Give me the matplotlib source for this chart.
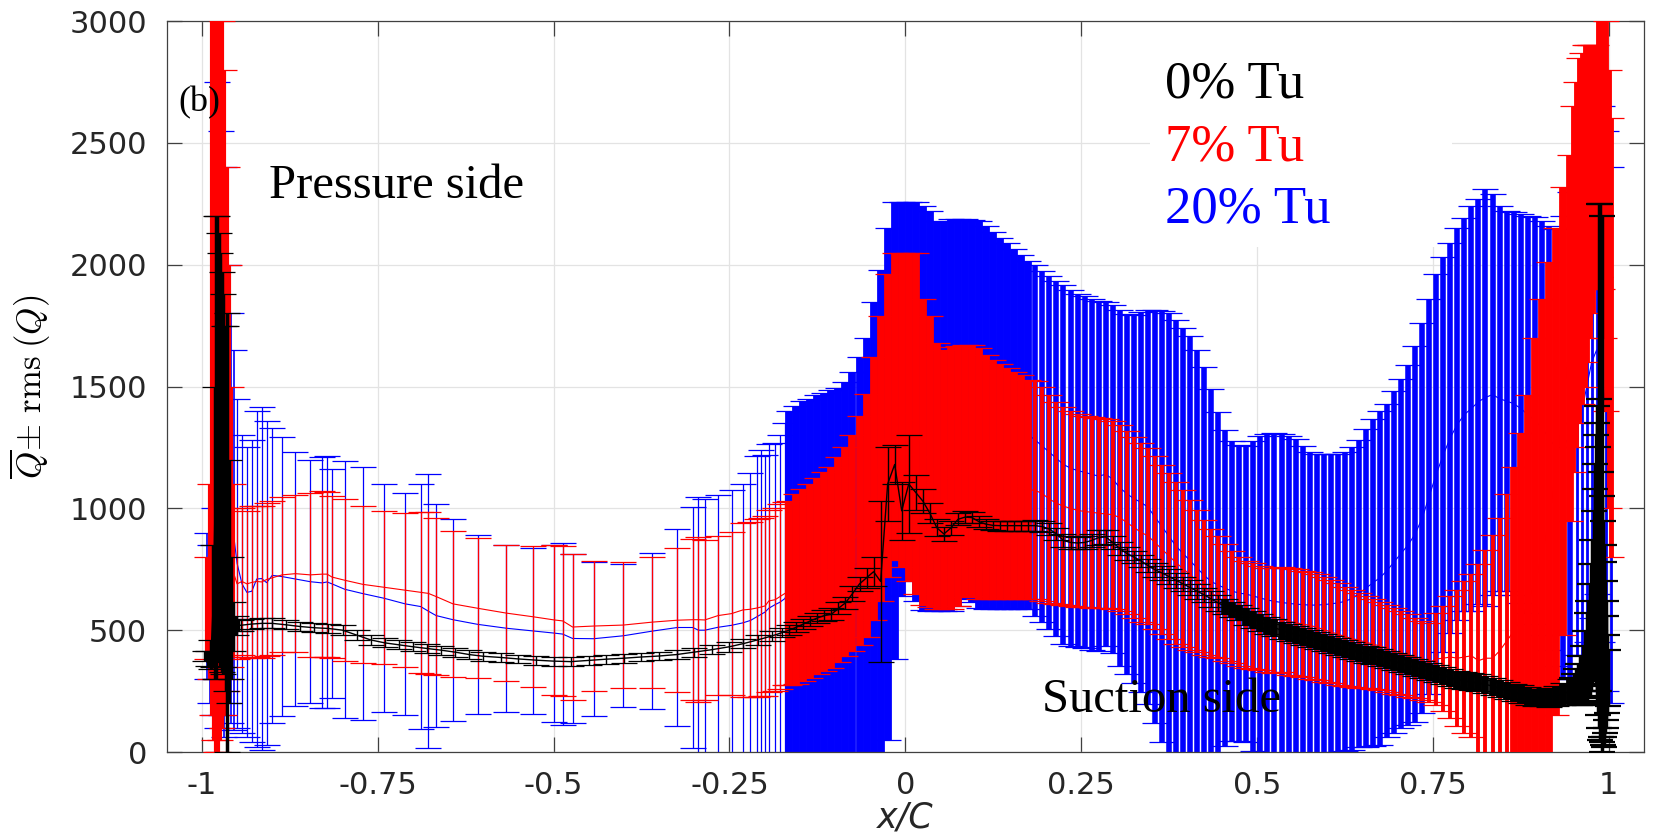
import numpy as np
import matplotlib
matplotlib.use("Agg")
import matplotlib.pyplot as plt
from matplotlib.patches import Rectangle

# ---------------- data: mean Q and rms(Q) along x/C ----------------
# pressure side trailing edge spike
blue_tip_x = [-0.993, -0.988, -0.983, -0.978, -0.973, -0.968, -0.963, -0.958, -0.954]
blue_tip_mean = [600, 525, 575, 1425, 1350, 1230, 1100, 960, 870]
blue_tip_rms = [300, 325, 425, 1325, 1200, 1170, 900, 840, 780]

red_tip_x = [-0.993, -0.989, -0.986, -0.983, -0.980, -0.977, -0.974, -0.971, -0.968,
             -0.965, -0.962, -0.959, -0.956]
red_tip_mean = [590, 700, 1625, 1625, 1600, 1550, 1550, 1550, 1475, 1325, 1150, 925, 745]
red_tip_rms = [210, 400, 1475, 1575, 1600, 1550, 1500, 1450, 1325, 1075, 850, 575, 355]

black_tip_x = [-0.995, -0.991, -0.987, -0.984, -0.982, -0.980, -0.978, -0.976, -0.974, -0.972,
               -0.970, -0.968, -0.966, -0.964, -0.962, -0.959, -0.956, -0.952, -0.948]
black_tip_mean = [395, 385, 400, 600, 900, 1250, 1300, 1250, 1200, 1150,
                  1100, 1050, 1000, 900, 700, 550, 515, 520, 522]
black_tip_rms = [20, 30, 60, 250, 600, 950, 900, 880, 850, 820,
                 780, 700, 750, 900, 500, 250, 100, 40, 25]

# pressure side, sparse probes (7% and 20% Tu)
ps_x = [-0.950, -0.943, -0.936, -0.929, -0.922, -0.915, -0.908, -0.900, -0.886, -0.867,
        -0.846, -0.829, -0.822, -0.815, -0.797, -0.771, -0.741, -0.711, -0.689, -0.678,
        -0.667, -0.643, -0.608, -0.567, -0.529, -0.499, -0.487, -0.473, -0.443, -0.401,
        -0.360, -0.324, -0.302, -0.294, -0.285, -0.266, -0.247, -0.231, -0.220, -0.211,
        -0.205, -0.199, -0.194, -0.185, -0.178, -0.171]
blue_ps_mean = [775, 690, 655, 660, 710, 712, 695, 725, 720, 710,
                699, 694, 698, 690, 668, 650, 631, 608, 597, 578,
                560, 543, 524, 508, 497, 488, 484, 466, 465, 477,
                496, 511, 511, 500, 500, 512, 520, 530, 540, 555,
                565, 575, 590, 605, 615, 630]
blue_ps_rms = [675, 610, 595, 620, 690, 702, 665, 605, 572, 522,
               499, 515, 518, 470, 527, 520, 468, 456, 504, 563,
               456, 414, 368, 343, 342, 363, 373, 348, 316, 294,
               320, 403, 493, 545, 540, 543, 555, 570, 605, 660,
               675, 645, 675, 665, 685, 720]
red_ps_mean = [690, 700, 690, 696, 700, 698, 708, 715, 727, 732,
               727, 730, 730, 718, 705, 688, 676, 664, 655, 651,
               638, 608, 590, 570, 555, 542, 538, 513, 517, 521,
               533, 541, 543, 543, 542, 560, 568, 583, 586, 591,
               595, 600, 620, 625, 638, 651]
red_ps_rms = [310, 300, 300, 312, 310, 312, 312, 315, 318, 322,
              335, 340, 338, 332, 332, 322, 314, 316, 330, 332,
              322, 300, 288, 280, 290, 308, 308, 300, 268, 260,
              269, 296, 330, 338, 329, 326, 334, 356, 359, 364,
              365, 370, 372, 375, 378, 376]

# pressure side, 0% Tu
black_ps_x = [-0.945, -0.930, -0.915, -0.900, -0.880, -0.860, -0.840, -0.820, -0.800, -0.780,
              -0.760, -0.740, -0.720, -0.700, -0.680, -0.660, -0.640, -0.620, -0.600, -0.575,
              -0.550, -0.525, -0.500, -0.475, -0.450, -0.425, -0.400, -0.375, -0.350, -0.325,
              -0.300, -0.275, -0.250, -0.230, -0.210, -0.190, -0.175]
black_ps_mean = [520, 525, 528, 528, 522, 515, 510, 507, 500, 480,
                 460, 448, 440, 432, 425, 418, 410, 400, 393, 388,
                 382, 377, 373, 371, 376, 381, 385, 390, 394, 400,
                 410, 420, 432, 445, 460, 476, 490]
black_ps_rms = [22, 20, 20, 20, 18, 18, 18, 18, 20, 20,
                20, 18, 18, 18, 18, 18, 18, 18, 18, 18,
                18, 18, 18, 18, 18, 18, 18, 18, 18, 18,
                18, 18, 20, 20, 20, 20, 20]

# leading edge region (dense)
le_x = [-0.165, -0.155, -0.145, -0.135, -0.125, -0.115, -0.105, -0.095, -0.085, -0.075,
        -0.065, -0.055, -0.045, -0.035, -0.025, -0.015, -0.005, 0.005, 0.015, 0.025,
        0.035, 0.045, 0.055, 0.065, 0.075, 0.085, 0.095, 0.105, 0.115, 0.125,
        0.135, 0.145, 0.155, 0.165, 0.175]
blue_le_mean = [675, 685, 695, 700, 708, 712, 718, 722, 735, 755,
                785, 825, 898, 965, 1100, 1318, 1448, 1478, 1438, 1412,
                1400, 1380, 1378, 1383, 1393, 1408, 1400, 1385, 1374, 1362,
                1349, 1339, 1327, 1314, 1302]
blue_le_rms = [725, 735, 745, 750, 758, 762, 768, 772, 785, 805,
               835, 875, 948, 1015, 1050, 938, 808, 778, 818, 828,
               820, 800, 798, 803, 793, 778, 785, 795, 786, 774,
               761, 751, 739, 726, 714]
red_le_mean = [652, 668, 685, 702, 722, 742, 758, 790, 822, 858,
               910, 970, 1080, 1205, 1340, 1420, 1405, 1375, 1350, 1232,
               1192, 1134, 1119, 1126, 1134, 1153, 1156, 1144, 1128, 1118,
               1110, 1100, 1092, 1086, 1076]
red_le_rms = [378, 390, 395, 398, 402, 408, 412, 420, 428, 442,
              470, 500, 540, 585, 620, 630, 645, 675, 700, 628,
              598, 546, 531, 538, 534, 518, 516, 516, 502, 492,
              484, 474, 466, 460, 450]
black_le_mean = [500, 512, 525, 538, 550, 560, 565, 590, 612, 650,
                 690, 715, 740, 700, 1100, 1180, 990, 1100, 1065, 1030,
                 980, 920, 895, 920, 955, 964, 962, 945, 935, 930,
                 929, 929, 929, 929, 929]
black_le_rms = [20, 20, 20, 22, 22, 22, 25, 25, 25, 30,
                30, 40, 60, 330, 150, 80, 120, 200, 70, 50,
                40, 35, 30, 30, 25, 25, 22, 22, 20, 20,
                20, 20, 20, 20, 20]

# suction side (dense)
ss_x = [0.185, 0.195, 0.205, 0.215, 0.225, 0.235, 0.245, 0.255, 0.265, 0.275,
        0.285, 0.295, 0.305, 0.315, 0.325, 0.335, 0.345, 0.355, 0.365, 0.375,
        0.385, 0.395, 0.405, 0.415, 0.425, 0.435, 0.445, 0.455, 0.465, 0.475,
        0.485, 0.495, 0.505, 0.515, 0.525, 0.535, 0.545, 0.555, 0.565, 0.575,
        0.585, 0.595, 0.605, 0.615, 0.625, 0.635, 0.645, 0.655, 0.665, 0.675,
        0.685, 0.695, 0.705, 0.715, 0.725, 0.735, 0.745, 0.755, 0.765, 0.775,
        0.785, 0.795, 0.805, 0.815, 0.825, 0.835, 0.845, 0.855, 0.865, 0.875,
        0.885, 0.895, 0.905, 0.915, 0.925, 0.935, 0.945]
blue_ss_mean = [1280, 1255, 1230, 1205, 1180, 1165, 1155, 1148, 1140, 1132,
                1140, 1120, 1085, 1060, 1040, 1025, 1005, 965, 925, 885,
                845, 815, 785, 755, 725, 700, 685, 672, 660, 652,
                648, 640, 632, 624, 618, 614, 610, 607, 605, 603,
                603, 605, 608, 612, 618, 630, 650, 672, 695, 715,
                745, 780, 815, 850, 895, 960, 1050, 1140, 1220, 1290,
                1345, 1385, 1410, 1438, 1455, 1467, 1450, 1440, 1430, 1410,
                1385, 1361, 1330, 1290, 1250, 1250, 1300]
blue_ss_rms = [720, 720, 725, 730, 735, 730, 725, 722, 720, 718,
               705, 715, 730, 738, 755, 780, 807, 847, 885, 915,
               930, 925, 924, 895, 855, 790, 710, 648, 615, 606,
               607, 635, 663, 681, 690, 691, 685, 676, 650, 627,
               621, 619, 616, 612, 612, 620, 630, 653, 670, 685,
               685, 700, 715, 740, 770, 800, 810, 820, 810, 800,
               805, 805, 830, 832, 855, 823, 790, 780, 785, 800,
               815, 834, 850, 870, 895, 950, 1000]
red_ss_mean = [1074, 1060, 1038, 1021, 1009, 1000, 992, 987, 984, 980,
               977, 974, 962, 942, 922, 902, 887, 860, 832, 805,
               777, 753, 727, 702, 677, 653, 635, 615, 595, 577,
               565, 557, 550, 542, 539, 544, 536, 531, 525, 520,
               512, 503, 493, 484, 474, 466, 459, 451, 443, 435,
               425, 415, 405, 396, 386, 376, 367, 382, 385, 390,
               385, 390, 395, 375, 385, 385, 415, 455, 495, 545,
               603, 700, 800, 950, 1150, 1400, 1700]
red_ss_rms = [448, 440, 426, 414, 406, 400, 395, 392, 391, 390,
              388, 386, 382, 377, 372, 367, 362, 355, 347, 340,
              332, 321, 307, 292, 277, 261, 250, 240, 230, 222,
              219, 217, 215, 215, 216, 216, 218, 219, 219, 220,
              218, 215, 211, 208, 204, 200, 195, 190, 185, 181,
              178, 175, 172, 169, 166, 162, 162, 187, 215, 250,
              280, 310, 335, 395, 445, 505, 545, 605, 675, 765,
              864, 1000, 1060, 1060, 1000, 920, 750]
black_ss_mean = [929, 925, 915, 895, 868, 860, 858, 860, 868, 880,
                 883, 860, 835, 815, 800, 785, 765, 748, 735, 720,
                 705, 690, 675, 660, 645, 628, 612, 598, 585, 572,
                 558, 545, 532, 520, 510, 500, 490, 482, 474, 467,
                 458, 450, 442, 434, 426, 418, 410, 402, 395, 388,
                 380, 372, 364, 356, 347, 338, 330, 322, 314, 306,
                 298, 292, 288, 284, 278, 270, 262, 254, 246, 238,
                 230, 224, 222, 224, 230, 238, 250]
black_ss_rms = [22, 22, 25, 25, 28, 25, 25, 25, 28, 30,
                30, 28, 28, 25, 25, 25, 28, 28, 30, 30,
                30, 30, 30, 30, 30, 32, 32, 32, 32, 32,
                35, 35, 35, 35, 35, 35, 35, 35, 35, 35,
                35, 35, 35, 35, 35, 35, 35, 35, 35, 35,
                35, 35, 35, 35, 35, 35, 35, 35, 35, 35,
                35, 35, 35, 35, 35, 35, 35, 35, 35, 35,
                35, 35, 35, 38, 40, 45, 50]

# suction side trailing edge
blue_tail_x = [0.955, 0.962, 0.969, 0.976, 0.983, 0.990, 0.997, 1.004]
blue_tail_mean = [1350, 1400, 1500, 1600, 1650, 1550, 1400, 1300]
blue_tail_rms = [950, 1000, 1050, 1050, 1000, 1100, 1150, 1100]

red_tail_x = [0.950, 0.954, 0.958, 0.962, 0.966, 0.970, 0.974, 0.978,
              0.982, 0.985, 0.988, 0.991, 0.994, 0.997, 1.000, 1.003]
red_tail_mean = [1900, 2000, 2100, 2150, 2200, 2250, 2300, 2350,
                 2400, 2500, 2600, 2600, 2450, 2200, 1900, 1700]
red_tail_rms = [750, 750, 750, 720, 700, 650, 600, 550,
                500, 550, 650, 700, 750, 800, 900, 900]

black_tail_x = [0.948, 0.951, 0.954, 0.957, 0.960, 0.963, 0.966, 0.969, 0.971, 0.973,
                0.975, 0.977, 0.979, 0.980, 0.981, 0.982, 0.983, 0.984, 0.985, 0.986,
                0.987, 0.988, 0.989, 0.990, 0.991, 0.992, 0.993, 0.994, 0.995, 0.996,
                0.997, 0.998, 0.999]
black_tail_mean = [255, 262, 270, 280, 295, 315, 345, 390, 420, 460,
                   510, 570, 640, 700, 755, 790, 835, 775, 700, 775,
                   1250, 1150, 605, 1100, 545, 490, 435, 420, 390, 360,
                   345, 320, 305]
black_tail_rms = [50, 60, 70, 80, 100, 120, 150, 180, 200, 230,
                  260, 300, 350, 380, 425, 510, 585, 575, 550, 675,
                  1000, 1100, 545, 1100, 505, 460, 415, 360, 310, 260,
                  215, 160, 115]

labels = ['0% Tu', '7% Tu', '20% Tu']

# ---------------- plot ----------------
plt.rcParams['mathtext.fontset'] = 'cm'

fig = plt.figure(figsize=(16.54, 8.34), dpi=100)
ax = fig.add_axes([0.1008, 0.0983, 0.8930, 0.8765])

CAP = 9.5


def bars(x, m, r, color, lw, z, ct=0.9):
    ax.errorbar(x, m, yerr=r, fmt='none', ecolor=color, elinewidth=lw,
                capsize=CAP, capthick=ct, zorder=z)


def meanline(parts, color, z, lw=0.8):
    xs = np.concatenate([p[0] for p in parts])
    ms = np.concatenate([p[1] for p in parts])
    ax.plot(xs, ms, color=color, lw=lw, zorder=z)


k = 68  # red bars merge into a solid block from x = 0.865
kb = 27  # black band turns solid from x = 0.455

# 20% Tu (blue) first, then 7% (red), then 0% (black)
blue = (0, 0, 1)
bars(blue_tip_x, blue_tip_mean, blue_tip_rms, blue, 1.2, 2)
bars(ps_x, blue_ps_mean, blue_ps_rms, blue, 0.9, 2)
bars(le_x, blue_le_mean, blue_le_rms, blue, 5.6, 2)
bars(ss_x, blue_ss_mean, blue_ss_rms, blue, 4.0, 2)
bars(blue_tail_x, blue_tail_mean, blue_tail_rms, blue, 2.0, 2)
meanline([(blue_tip_x, blue_tip_mean), (ps_x, blue_ps_mean), (le_x, blue_le_mean),
          (ss_x, blue_ss_mean), (blue_tail_x, blue_tail_mean)], blue, 2.1)

red = (1, 0, 0)
bars(red_tip_x, red_tip_mean, red_tip_rms, red, 3.0, 3)
bars(ps_x, red_ps_mean, red_ps_rms, red, 0.9, 3)
bars(le_x, red_le_mean, red_le_rms, red, 5.6, 3)
bars(ss_x[:k], red_ss_mean[:k], red_ss_rms[:k], red, 2.8, 3)
bars(ss_x[k:], red_ss_mean[k:], red_ss_rms[k:], red, 5.6, 3)
bars(red_tail_x, red_tail_mean, red_tail_rms, red, 3.5, 3)
meanline([(red_tip_x, red_tip_mean), (ps_x, red_ps_mean), (le_x, red_le_mean),
          (ss_x, red_ss_mean), (red_tail_x, red_tail_mean)], red, 3.1)

bars(black_tip_x, black_tip_mean, black_tip_rms, 'black', 2.5, 4)
bars(black_ps_x, black_ps_mean, black_ps_rms, 'black', 1.0, 4)
bars(le_x, black_le_mean, black_le_rms, 'black', 1.0, 4)
bars(ss_x[:kb], black_ss_mean[:kb], black_ss_rms[:kb], 'black', 1.0, 4)
bars(ss_x[kb:], black_ss_mean[kb:], black_ss_rms[kb:], 'black', 5.6, 4)
bars(black_tail_x, black_tail_mean, black_tail_rms, 'black', 2.5, 4, ct=1.6)
meanline([(black_tip_x, black_tip_mean), (black_ps_x, black_ps_mean), (le_x, black_le_mean),
          (ss_x, black_ss_mean), (black_tail_x, black_tail_mean)], 'black', 4.1, lw=1.0)

ax.set_xlim(-1.05, 1.05)
ax.set_ylim(0, 3000)
ax.set_xticks([-1, -0.75, -0.5, -0.25, 0, 0.25, 0.5, 0.75, 1])
ax.set_xticklabels(['-1', '-0.75', '-0.5', '-0.25', '0', '0.25', '0.5', '0.75', '1'])
ax.set_yticks([0, 500, 1000, 1500, 2000, 2500, 3000])
ax.grid(True, color='#e3e3e3', lw=0.9)
ax.set_axisbelow(True)
ax.tick_params(direction='in', length=11, width=0.9, color='#404040', top=True, right=True,
               labelsize=22, labelcolor='#262626')
ax.tick_params(axis='x', pad=14)
ax.tick_params(axis='y', pad=14)
for lab in ax.get_xticklabels() + ax.get_yticklabels():
    lab.set_family('DejaVu Sans')
for s in ax.spines.values():
    s.set_color('#404040')
    s.set_linewidth(0.9)

ax.set_xlabel('x/C', fontsize=25, style='italic', family='DejaVu Sans', labelpad=0, color='#262626')
ax.set_ylabel(r'$\overline{Q}\!\pm\,\mathrm{rms}\;(Q)$', fontsize=25, labelpad=12)

# white box behind the legend text
ax.add_patch(Rectangle((0.348, 2072), 0.43, 1000, facecolor='white', edgecolor='none', zorder=1.6))

serif = 'Liberation Serif'
ax.text(-1.033, 2628, '(b)', fontsize=26, family=serif, va='baseline', zorder=6)
ax.text(-0.905, 2273, 'Pressure side', fontsize=35, family=serif, va='baseline', zorder=6)
ax.text(0.194, 164, 'Suction side', fontsize=35, family=serif, va='baseline', zorder=6)
for lab, col, yb in zip(labels, ['black', 'red', 'blue'], [2688, 2429, 2173]):
    ax.text(0.370, yb, lab, fontsize=38, family=serif, color=col, va='baseline', zorder=6)

fig.savefig('out.png', dpi=100)
